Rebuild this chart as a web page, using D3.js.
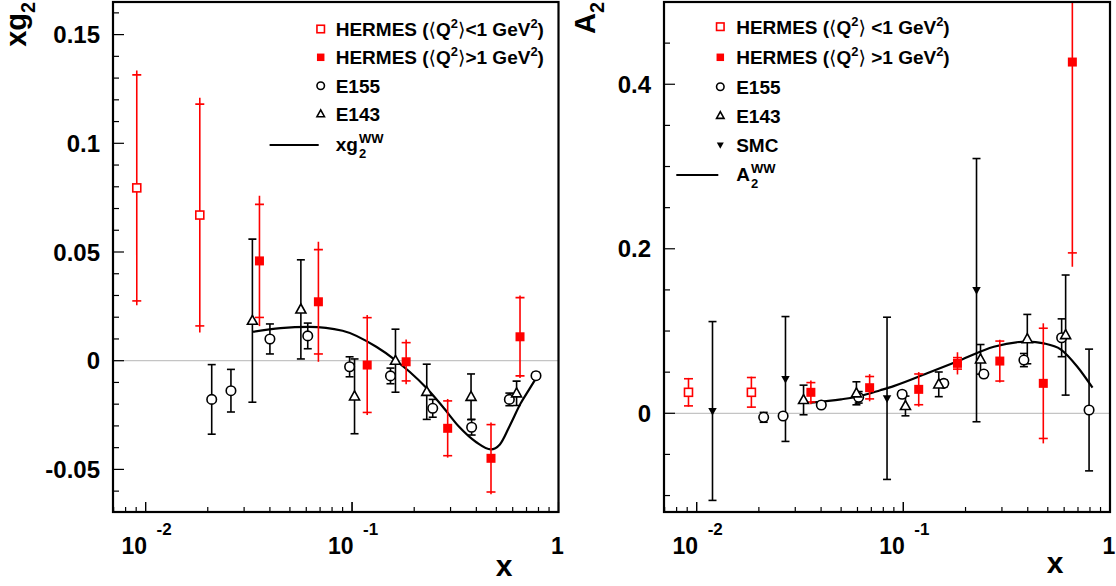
<!DOCTYPE html>
<html>
<head>
<meta charset="utf-8">
<script src="https://cdn.jsdelivr.net/npm/d3@7"></script>
<style>
  body { margin: 0; background: #fff; }
  text { font-family: "Liberation Sans", Arial, Helvetica, sans-serif; font-weight: bold; fill: #000; }
  .br { font-family: "DejaVu Sans", sans-serif; font-weight: normal; }
</style>
</head>
<body>
<svg id="chart" width="1116" height="586"></svg>
<script>
// ---- data ----
// HERMES rows: [x, value, stat error, total error]; other rows: [x, value, error]
var xg2HermesLow = [[0.00906, 0.0795, 0.052, 0.054], [0.0183, 0.0670, 0.051, 0.054]];
var xg2HermesHigh = [
  [0.0356, 0.0459, 0.026, 0.030], [0.0687, 0.0271, 0.024, 0.0276], [0.1184, -0.0020, 0.0218, 0.023],
  [0.1828, -0.0005, 0.0088, 0.0103], [0.2905, -0.0311, 0.0126, 0.0135], [0.471, -0.0449, 0.0155, 0.0165],
  [0.651, 0.0110, 0.018, 0.019]
];
var xg2E155 = [
  [0.0209, -0.0178, 0.016], [0.0259, -0.0138, 0.0098], [0.0400, 0.0100, 0.0069], [0.0610, 0.0114, 0.0059],
  [0.0973, -0.0028, 0.0046], [0.1535, -0.0070, 0.0036], [0.2459, -0.0219, 0.0041], [0.3795, -0.0306, 0.0036],
  [0.578, -0.0178, 0.0029], [0.778, -0.0069, 0.0015]
];
var xg2E143 = [
  [0.0329, 0.0184, 0.0375], [0.0565, 0.0236, 0.0228], [0.1028, -0.0164, 0.0172], [0.1623, 0.0000, 0.0145],
  [0.230, -0.0143, 0.0127], [0.377, -0.0166, 0.0105], [0.6266, -0.0150, 0.0056]
];
var xg2WWx = [0.033, 0.045, 0.062, 0.09, 0.131, 0.162, 0.19, 0.23, 0.275, 0.33, 0.40, 0.47, 0.52, 0.58, 0.656, 0.72, 0.778];
var xg2WWy = [0.0133, 0.0150, 0.0156, 0.0138, 0.0064, 0.0003, -0.0051, -0.0127, -0.0212, -0.0304, -0.0375, -0.0408, -0.0385, -0.0300, -0.0196, -0.0133, -0.0081];

var a2HermesLow = [[0.00913, 0.0255, 0.0165, 0.0175], [0.0184, 0.0255, 0.018, 0.019]];
var a2HermesHigh = [
  [0.0357, 0.0255, 0.0118, 0.0145], [0.0687, 0.0311, 0.0136, 0.0165], [0.1187, 0.0291, 0.0187, 0.021],
  [0.1828, 0.0607, 0.0070, 0.0135], [0.293, 0.0635, 0.0243, 0.026], [0.4756, 0.0364, 0.067, 0.073],
  [0.6574, 0.427, 0.232, 0.249]
];
var a2E155 = [
  [0.0211, -0.0049, 0.006], [0.0262, -0.0033, 0.0], [0.0401, 0.0101, 0.0], [0.0608, 0.0194, 0.007],
  [0.0987, 0.0231, 0.004], [0.157, 0.0364, 0.004], [0.2452, 0.0477, 0.004], [0.3832, 0.0647, 0.008],
  [0.5834, 0.0918, 0.023], [0.792, 0.0040, 0.074]
];
var a2E143 = [
  [0.0329, 0.0162, 0.018], [0.0593, 0.0243, 0.014], [0.1024, 0.0089, 0.012], [0.1484, 0.0352, 0.015],
  [0.2363, 0.0656, 0.018], [0.398, 0.0902, 0.030], [0.61, 0.0951, 0.073]
];
var a2SMC = [[0.01193, 0.0028, 0.1087], [0.0269, 0.0417, 0.0759], [0.0834, 0.0182, 0.0986], [0.226, 0.1497, 0.16]];
var a2WWx = [0.0357, 0.05, 0.062, 0.0774, 0.0898, 0.1304, 0.189, 0.274, 0.398, 0.479, 0.577, 0.695, 0.823];
var a2WWy = [0.0129, 0.017, 0.021, 0.028, 0.033, 0.0486, 0.0647, 0.0809, 0.0872, 0.085, 0.0777, 0.0566, 0.0311];

// tick labels
var xTickValues = [0.01, 0.1, 1];
var xTickBase = ["10", "10", "1"];
var xTickExp = ["-2", "-1", ""];
var xg2YTicks = [-0.05, 0, 0.05, 0.1, 0.15];
var a2YTicks = [0, 0.2, 0.4];

var RED = "#ff0000";
var svg = d3.select("#chart");

// text with pieces: [text, "sup"|"sub"|"br"|undefined]
function richText(sel, parts, size) {
  var shift = 0;
  parts.forEach(function(p) {
    var target = p[1] == "sup" ? -size * 0.42 : (p[1] == "sub" ? size * 0.3 : 0);
    var small = p[1] == "sup" || p[1] == "sub";
    var ts = sel.append("tspan")
      .attr("dy", target - shift)
      .attr("font-size", small ? size * 0.68 : size)
      .text(p[0]);
    if (p[1] == "br") ts.attr("class", "br");
    shift = target;
  });
}

function marker(g, kind, cx, cy, s) {
  if (kind == "openSquare") {
    g.append("rect").attr("x", cx - s/2).attr("y", cy - s/2).attr("width", s).attr("height", s)
      .attr("fill", "#fff").attr("stroke", RED).attr("stroke-width", 1.6);
  } else if (kind == "fullSquare") {
    g.append("rect").attr("x", cx - s/2).attr("y", cy - s/2).attr("width", s).attr("height", s)
      .attr("fill", RED);
  } else if (kind == "circle") {
    g.append("circle").attr("cx", cx).attr("cy", cy).attr("r", s/2)
      .attr("fill", "#fff").attr("stroke", "#000").attr("stroke-width", 1.6);
  } else if (kind == "triangle") {
    var h = s * 0.9;
    g.append("path").attr("d", "M" + cx + "," + (cy - h*0.6) + "L" + (cx + s/2) + "," + (cy + h*0.4) + "L" + (cx - s/2) + "," + (cy + h*0.4) + "Z")
      .attr("fill", "#fff").attr("stroke", "#000").attr("stroke-width", 1.6);
  } else if (kind == "downTriangle") {
    var h2 = s * 0.9;
    g.append("path").attr("d", "M" + cx + "," + (cy + h2*0.6) + "L" + (cx + s/2) + "," + (cy - h2*0.4) + "L" + (cx - s/2) + "," + (cy - h2*0.4) + "Z")
      .attr("fill", "#000");
  }
}

function drawPanel(p) {
  var x = d3.scaleLog().domain([0.00695, 1]).range([p.left, p.right]);
  var y = d3.scaleLinear().domain(p.yDomain).range([p.bottom, p.top]);

  svg.append("clipPath").attr("id", "clip" + p.id).append("rect")
    .attr("x", p.left).attr("y", p.top).attr("width", p.right - p.left).attr("height", p.bottom - p.top);
  var plot = svg.append("g").attr("clip-path", "url(#clip" + p.id + ")");

  // zero line
  plot.append("line").attr("x1", p.left).attr("x2", p.right).attr("y1", y(0)).attr("y2", y(0))
    .attr("stroke", "#c4c4c4").attr("stroke-width", 1.2);

  // y ticks (inside the frame)
  var axes = svg.append("g");
  var k0 = Math.ceil(p.yDomain[0] / p.yStep - 1e-6), k1 = Math.floor(p.yDomain[1] / p.yStep + 1e-6);
  for (var k = k0; k <= k1; k++) {
    var v = k * p.yStep, len = (k % p.yMajor == 0) ? 11 : 6;
    axes.append("line").attr("x1", p.left).attr("x2", p.left + len).attr("y1", y(v)).attr("y2", y(v))
      .attr("stroke", "#000").attr("stroke-width", 1.2);
  }
  p.yTicks.forEach(function(v) {
    axes.append("text").attr("x", p.left - 13).attr("y", y(v)).attr("dy", "0.36em")
      .attr("text-anchor", "end").attr("font-size", 24).text(String(+v.toFixed(2)));
  });

  // x ticks (log, inside the frame)
  [0.001, 0.01, 0.1].forEach(function(dec) {
    for (var m = 1; m <= 10; m++) {
      var xv = dec * m;
      if (xv < 0.00695 || xv > 1.0001) continue;
      var len = (m == 1 || m == 10) ? 10 : 5;
      axes.append("line").attr("x1", x(xv)).attr("x2", x(xv)).attr("y1", p.bottom).attr("y2", p.bottom - len)
        .attr("stroke", "#000").attr("stroke-width", 1.2);
    }
  });
  xTickValues.forEach(function(v, i) {
    var px = x(v);
    if (xTickExp[i]) {
      axes.append("text").attr("x", px + 1.5).attr("y", 554).attr("text-anchor", "end")
        .attr("font-size", 23).text(xTickBase[i]);
      axes.append("text").attr("x", px + 11).attr("y", 535).attr("text-anchor", "start")
        .attr("font-size", 17).text(xTickExp[i]);
    } else {
      axes.append("text").attr("x", px - 1).attr("y", 554).attr("text-anchor", "middle")
        .attr("font-size", 23).text(xTickBase[i]);
    }
  });

  // Wandzura-Wilczek curve
  var line = d3.line().x(function(d) { return x(d[0]); }).y(function(d) { return y(d[1]); })
    .curve(d3.curveMonotoneX);
  plot.append("path").datum(d3.zip(p.curveX, p.curveY)).attr("d", line)
    .attr("fill", "none").attr("stroke", "#000").attr("stroke-width", 2.2);

  // black error bars with caps
  p.black.forEach(function(s) {
    s.data.forEach(function(d) {
      if (d[2] <= 0) return;
      var cx = x(d[0]), yt = y(d[1] + d[2]), yb = y(d[1] - d[2]);
      plot.append("line").attr("x1", cx).attr("x2", cx).attr("y1", yt).attr("y2", yb)
        .attr("stroke", "#000").attr("stroke-width", 1.6);
      [yt, yb].forEach(function(yy) {
        plot.append("line").attr("x1", cx - 4).attr("x2", cx + 4).attr("y1", yy).attr("y2", yy)
          .attr("stroke", "#000").attr("stroke-width", 1.6);
      });
    });
  });
  // red error bars: line = total, ticks = statistical
  p.red.forEach(function(s) {
    s.data.forEach(function(d) {
      var cx = x(d[0]);
      plot.append("line").attr("x1", cx).attr("x2", cx).attr("y1", y(d[1] + d[3])).attr("y2", y(d[1] - d[3]))
        .attr("stroke", RED).attr("stroke-width", 1.6);
      [d[1] + d[2], d[1] - d[2]].forEach(function(v) {
        plot.append("line").attr("x1", cx - 4.5).attr("x2", cx + 4.5).attr("y1", y(v)).attr("y2", y(v))
          .attr("stroke", RED).attr("stroke-width", 1.6);
      });
    });
  });
  // markers
  p.black.concat(p.red).forEach(function(s) {
    s.data.forEach(function(d) { marker(plot, s.kind, x(d[0]), y(d[1]), s.size); });
  });

  // frame
  svg.append("rect").attr("x", p.left).attr("y", p.top).attr("width", p.right - p.left).attr("height", p.bottom - p.top)
    .attr("fill", "none").attr("stroke", "#000").attr("stroke-width", 2.2);

  // axis titles
  var yt = svg.append("text").attr("transform", "translate(" + p.yTitleX + ",2) rotate(-90)")
    .attr("text-anchor", "end");
  richText(yt, p.yTitle, 29);
  svg.append("text").attr("x", p.xTitleX).attr("y", p.xTitleY).attr("text-anchor", "end")
    .attr("font-size", 30).text("x");

  // legend
  var lg = svg.append("g");
  p.legend.forEach(function(e) {
    if (e.kind == "line") {
      lg.append("line").attr("x1", e.x1).attr("x2", p.legX - 2).attr("y1", e.y).attr("y2", e.y)
        .attr("stroke", "#000").attr("stroke-width", 2);
      var t = lg.append("text").attr("x", p.legTextX).attr("y", e.y + 6).attr("font-size", 19).text(e.base);
      var w = t.node().getComputedTextLength();
      lg.append("text").attr("x", p.legTextX + w + 1).attr("y", e.y - 2.5).attr("font-size", 13).text("WW");
      lg.append("text").attr("x", p.legTextX + w + 1).attr("y", e.y + 12.5).attr("font-size", 13).text("2");
    } else {
      marker(lg, e.kind, p.legX, e.y, e.kind == "downTriangle" ? 7 : 7.5);
      var tt = lg.append("text").attr("x", p.legTextX).attr("y", e.y + 6.8).attr("font-size", 19);
      richText(tt, e.label, 19);
    }
  });
}

var hermesLowLabelL = [["HERMES ("], ["\u27E8", "br"], ["Q"], ["2", "sup"], ["\u27E9", "br"], ["<1 GeV"], ["2", "sup"], [")"]];
var hermesHighLabelL = [["HERMES ("], ["\u27E8", "br"], ["Q"], ["2", "sup"], ["\u27E9", "br"], [">1 GeV"], ["2", "sup"], [")"]];
var hermesLowLabelR = [["HERMES ("], ["\u27E8", "br"], ["Q"], ["2", "sup"], ["\u27E9", "br"], [" <1 GeV"], ["2", "sup"], [")"]];
var hermesHighLabelR = [["HERMES ("], ["\u27E8", "br"], ["Q"], ["2", "sup"], ["\u27E9", "br"], [" >1 GeV"], ["2", "sup"], [")"]];

drawPanel({
  id: "L", left: 113, right: 558.5, top: 2, bottom: 512,
  yDomain: [-0.0696, 0.165], yStep: 0.01, yMajor: 5, yTicks: xg2YTicks,
  curveX: xg2WWx, curveY: xg2WWy,
  black: [{ data: xg2E155, kind: "circle", size: 9.5 }, { data: xg2E143, kind: "triangle", size: 10 }],
  red: [{ data: xg2HermesLow, kind: "openSquare", size: 8 }, { data: xg2HermesHigh, kind: "fullSquare", size: 9 }],
  yTitle: [["xg"], ["2", "sub"]], yTitleX: 26, xTitleX: 512.5, xTitleY: 576,
  legX: 320.7, legTextX: 335.7,
  legend: [
    { kind: "openSquare", y: 29, label: hermesLowLabelL },
    { kind: "fullSquare", y: 57.3, label: hermesHighLabelL },
    { kind: "circle", y: 85.7, label: [["E155"]] },
    { kind: "triangle", y: 114, label: [["E143"]] },
    { kind: "line", y: 145, x1: 269.6, base: "xg" }
  ]
});

drawPanel({
  id: "R", left: 664, right: 1110, top: 2, bottom: 512,
  yDomain: [-0.12, 0.5], yStep: 0.05, yMajor: 4, yTicks: a2YTicks,
  curveX: a2WWx, curveY: a2WWy,
  black: [{ data: a2E155, kind: "circle", size: 9.5 }, { data: a2E143, kind: "triangle", size: 10 },
          { data: a2SMC, kind: "downTriangle", size: 8.5 }],
  red: [{ data: a2HermesLow, kind: "openSquare", size: 8 }, { data: a2HermesHigh, kind: "fullSquare", size: 9 }],
  yTitle: [["A"], ["2", "sub"]], yTitleX: 595, xTitleX: 1063.5, xTitleY: 573,
  legX: 720.3, legTextX: 736.2,
  legend: [
    { kind: "openSquare", y: 26.7, label: hermesLowLabelR },
    { kind: "fullSquare", y: 57.3, label: hermesHighLabelR },
    { kind: "circle", y: 86.7, label: [["E155"]] },
    { kind: "triangle", y: 115.7, label: [["E143"]] },
    { kind: "downTriangle", y: 145, label: [["SMC"]] },
    { kind: "line", y: 175, x1: 676.3, base: "A" }
  ]
});
</script>
</body>
</html>
